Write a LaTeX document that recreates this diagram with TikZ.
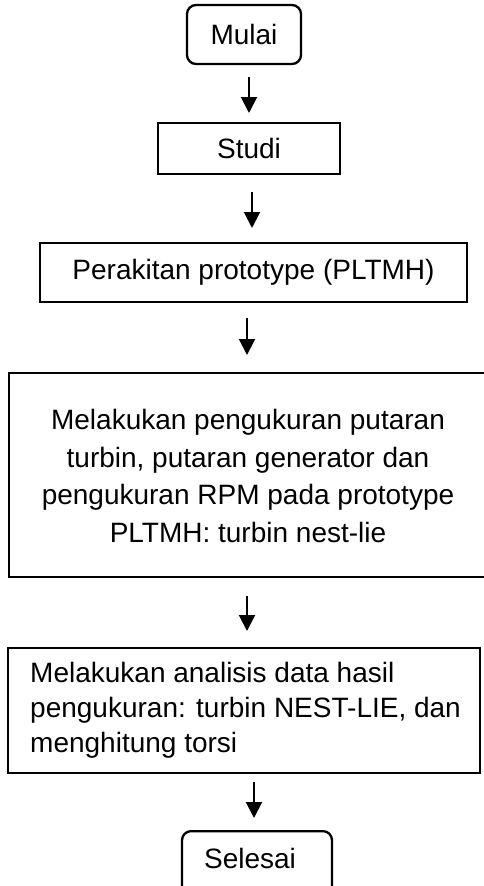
\documentclass[tikz,border=0pt]{standalone}
\usepackage{fontspec}
\setmainfont{Liberation Sans}
\usetikzlibrary{arrows.meta}
\begin{document}
\begin{tikzpicture}[x=1pt,y=-1pt,
  box/.style={draw=black,line width=2.3pt,inner sep=0pt,font=\fontsize{28}{37}\selectfont},
  term/.style={box,rounded corners=9pt},
  arr/.style={line width=2pt,-{Triangle[length=16pt,width=16pt]}}]
\useasboundingbox (0,0) rectangle (484,886);
\clip (0,0) rectangle (484,886);
\node[term,minimum width=114pt,minimum height=59pt] (mulai) at (244,34.5) {Mulai};
\node[box,minimum width=182pt,minimum height=51pt] (studi) at (249,148.5) {Studi};
\node[box,minimum width=427pt,minimum height=59pt] (rakit) at (253.5,272.5) {Perakitan prototype (PLTMH)};
\node[box,minimum width=490pt,minimum height=204pt,anchor=north west] (ukur) at (8,372) {};
\node[font=\fontsize{28}{37.5}\selectfont,align=center,anchor=center] (ukurtxt) at (248,476) {Melakukan pengukuran putaran\\turbin, putaran generator dan\\pengukuran RPM pada prototype\\PLTMH: turbin nest-lie};
\node[box,minimum width=472pt,minimum height=125pt] (analisis) at (244,710.5) {};
\node[font=\fontsize{28}{35}\selectfont,align=left,anchor=west,inner sep=0pt] (anatxt) at (30,710) {Melakukan analisis data hasil\\pengukuran: turbin NEST-LIE, dan\\menghitung torsi};
\node[term,minimum width=150pt,minimum height=70pt,anchor=north] (selesai) at (257,830) {};
\node[font=\fontsize{28}{37}\selectfont] (seltxt) at (250,858) {Selesai};
\coordinate (a1s) at (249,77); \coordinate (a1e) at (249,113);
\coordinate (a2s) at (252,192); \coordinate (a2e) at (252,228);
\coordinate (a3s) at (247,318); \coordinate (a3e) at (247,355);
\coordinate (a4s) at (247,596); \coordinate (a4e) at (247,631);
\coordinate (a5s) at (254,782); \coordinate (a5e) at (254,818);
\draw[arr] (a1s) -- (a1e);
\draw[arr] (a2s) -- (a2e);
\draw[arr] (a3s) -- (a3e);
\draw[arr] (a4s) -- (a4e);
\draw[arr] (a5s) -- (a5e);
\end{tikzpicture}
\end{document}
